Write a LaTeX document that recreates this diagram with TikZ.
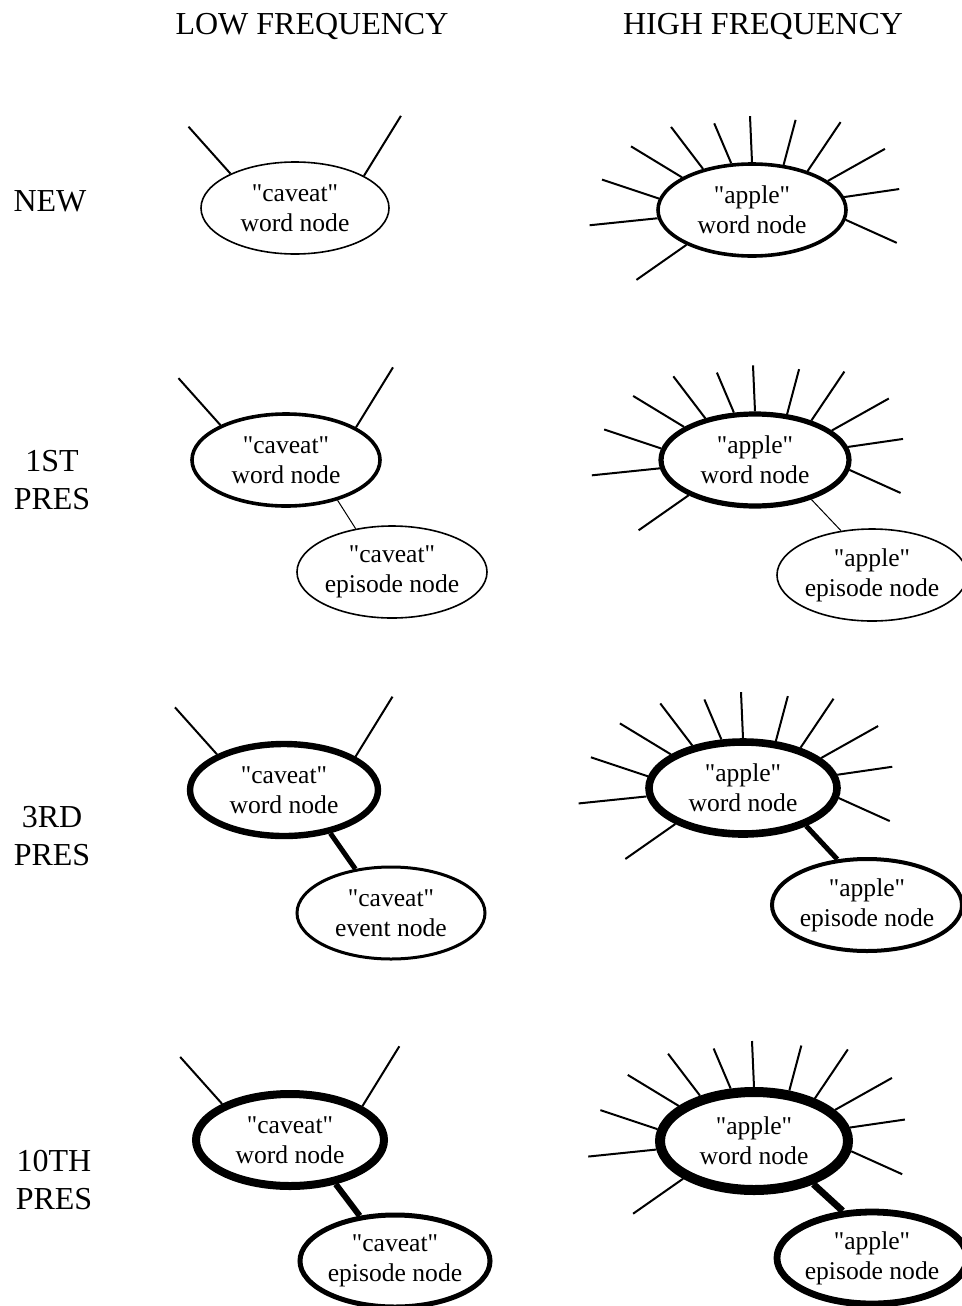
\documentclass[tikz,border=0pt]{standalone}
\usepackage{fontspec}
\setmainfont{Liberation Serif}
\newfontfamily\nodefont{Liberation Serif}
\usetikzlibrary{shapes.geometric, calc}
\tikzset{
  % word node, border grows with use
  WN/.style={ellipse,draw,inner sep=0pt,align=center,
             minimum width=94pt,minimum height=46pt,
             font=\nodefont\fontsize{12.8}{15}\selectfont,line width=#1},
  WN/.default=0.8pt,
  % episode / event node
  EN/.style={WN=#1},
  EN/.default=0.8pt,
  % link word -> episode
  Lnk/.style={line width=#1},
  Lnk/.default=0.5pt,
  % spokes round a word node
  Ray/.style={line width=1pt},
  % column and row heads
  HD/.style={font=\fontsize{16}{19}\selectfont,align=center,inner sep=0pt},
}
\begin{document}
\begin{tikzpicture}[x=0.5pt,y=-0.5pt]
  \useasboundingbox (0,0) rectangle (962,1306);
  % heads
  \node[HD,anchor=base] (hlow)  at (312,34) {LOW FREQUENCY};
  \node[HD,anchor=base] (hhigh) at (763,34) {HIGH FREQUENCY};
  \node[HD] (rnew) at (50,201)  {NEW};
  \node[HD] (r1)   at (52,480)  {1ST\\PRES};
  \node[HD] (r3)   at (52,836)  {3RD\\PRES};
  \node[HD] (r10)  at (54,1180) {10TH\\PRES};
  % low frequency column
  \node[WN] (cw1) at (295,208) {"caveat"\\word node};
  \node[WN=1.8pt] (cw2) at (286,460) {"caveat"\\word node};
  \node[EN] (ce2) at (392,572) {"caveat"\\episode node};
  \node[WN=3.2pt] (cw3) at (284,790) {"caveat"\\word node};
  \node[EN=1.5pt] (ce3) at (391,913) {"caveat"\\event node};
  \node[WN=4pt] (cw4) at (290,1140) {"caveat"\\word node};
  \node[EN=2.5pt] (ce4) at (395,1261) {"caveat"\\episode node};
  % high frequency column
  \node[WN=1.8pt] (aw1) at (752,210) {"apple"\\word node};
  \node[WN=2.6pt] (aw2) at (755,460) {"apple"\\word node};
  \node[EN] (ae2) at (872,575) {"apple"\\episode node};
  \node[WN=3.8pt] (aw3) at (743,788) {"apple"\\word node};
  \node[EN=2pt] (ae3) at (867,905) {"apple"\\episode node};
  \node[WN=5pt,minimum height=49pt] (aw4) at (754,1141) {"apple"\\word node};
  \node[EN=3.4pt] (ae4) at (872,1258) {"apple"\\episode node};
  % spokes
  \foreach \w in {cw1,cw2,cw3,cw4}
    \foreach \a/\dx/\dy in {152/-42/-47, 25/37/-60}
      \draw[Ray] (\w.\a) -- ++(\dx,\dy);
  \foreach \w in {aw1,aw2,aw3,aw4}
    \foreach \a/\dx/\dy in {208/-50/35, 185/-68/7, 173/-57/-19, 155/-51/-31,
                            140/-32/-42, 114/-17/-40, 90/-2/-46, 55/12/-45,
                            35/33/-49, 21/57/-32, 8/55/-8, -6/51/23}
      \draw[Ray] (\w.\a) -- ++(\dx,\dy);
  % links
  \draw[Lnk] (cw2.-38) -- (ce2.130);
  \draw[Lnk] (aw2.-35) -- (ae2.125);
  \draw[Lnk=2.5pt] (cw3.-43) -- (ce3.129);
  \draw[Lnk=2.5pt] (aw3.-31) -- (ae3.123);
  \draw[Lnk=3pt] (cw4.-44) -- (ce4.128);
  \draw[Lnk=3.4pt] (aw4.-36) -- (ae4.122);
\end{tikzpicture}
\end{document}
